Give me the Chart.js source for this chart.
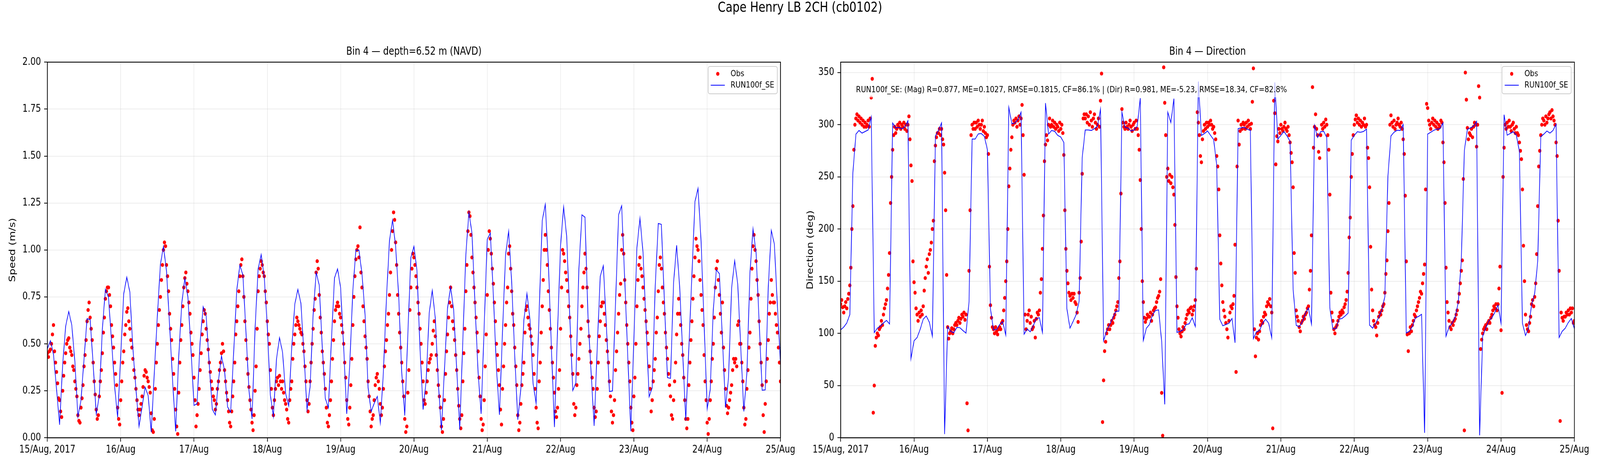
<!DOCTYPE html>
<html>
<head>
<meta charset="utf-8">
<title>Cape Henry LB 2CH (cb0102)</title>
<script src="https://cdn.jsdelivr.net/npm/chart.js@4.4.1/dist/chart.umd.min.js"></script>
<style>
  html, body { margin:0; padding:0; background:#ffffff; overflow:hidden; }
  #stage { position:absolute; left:0; top:0; width:5000px; height:1200px; transform-origin:0 0; font-family:"DejaVu Sans", sans-serif; color:#000; background:#fff; }
  #suptitle { position:absolute; left:0; top:-3px; width:5000px; text-align:center; font-size:35px; line-height:42px; }
  #wrapSpeed { position:absolute; left:0; top:0; width:2495px; height:1200px; }
  #wrapDir { position:absolute; left:2495px; top:0; width:2505px; height:1200px; }
  #stats { position:absolute; left:2668px; top:209px; padding:7px; font-size:22px; line-height:26px; white-space:nowrap; background:rgba(255,255,255,0.7); }
</style>
</head>
<body>
<div id="stage">
<div id="suptitle"></div>
<div id="wrapSpeed"><canvas id="cSpeed" width="2495" height="1200"></canvas></div>
<div id="wrapDir"><canvas id="cDir" width="2505" height="1200"></canvas></div>
<div id="stats"></div>
</div>
<script>
// ---------------- data ----------------
const figTitle = 'Cape Henry LB 2CH (cb0102)';
const speedTitle = 'Bin 4 \u2014 depth=6.52 m (NAVD)';
const dirTitle = 'Bin 4 \u2014 Direction';
const statsText = 'RUN100f_SE: (Mag) R=0.877, ME=0.1027, RMSE=0.1815, CF=86.1% | (Dir) R=0.981, ME=-5.23, RMSE=18.34, CF=82.8%';
const obsLabel = 'Obs';
const modelLabel = 'RUN100f_SE';

const dayLabels = ['15/Aug, 2017','16/Aug','17/Aug','18/Aug','19/Aug','20/Aug','21/Aug','22/Aug','23/Aug','24/Aug','25/Aug'];
const dayTickHours = [0,24,48,72,96,120,144,168,192,216,240];
const speedTicks = [0,0.25,0.5,0.75,1,1.25,1.5,1.75,2];
const dirTicks = [0,50,100,150,200,250,300,350];

const modelStepHours = 1;      // model: hourly
const obsStepHours = 1/3;      // obs: every 20 min

// model speed (m/s), hourly from 15 Aug 00:00
const speedModel = [
0.474,0.517,0.444,0.259,0.069,0.388,0.595,0.672,0.599,0.405,
0.112,0.198,0.42,0.634,0.629,0.388,0.125,0.224,0.578,0.791,
0.748,0.517,0.276,0.108,0.431,0.767,0.855,0.776,0.474,0.259,
0.060,0.164,0.269,0.224,0.030,0.345,0.647,0.922,1.019,0.888,
0.603,0.302,0.034,0.431,0.716,0.849,0.75,0.474,0.172,0.181,
0.509,0.698,0.647,0.388,0.151,0.121,0.302,0.435,0.358,0.164,
0.136,0.46,0.785,0.918,0.868,0.567,0.253,0.10,0.585,0.899,
0.976,0.855,0.593,0.227,0.113,0.419,0.532,0.454,0.236,0.17,
0.48,0.711,0.79,0.716,0.445,0.148,0.27,0.654,0.881,0.812,
0.48,0.209,0.159,0.524,0.851,0.899,0.798,0.48,0.127,0.393,
0.785,0.999,0.999,0.873,0.654,0.266,0.14,0.183,0.22,0.079,
0.349,0.742,1.051,1.159,1.021,0.759,0.349,0.118,0.55,0.96,
1.019,0.89,0.47,0.15,0.305,0.663,0.784,0.637,0.288,0.039,
0.366,0.689,0.803,0.681,0.366,0.044,0.515,0.977,1.2,1.09,
0.707,0.349,0.127,0.593,1.056,1.09,0.759,0.375,0.122,0.567,
0.973,1.1,0.829,0.436,0.096,0.262,0.628,0.768,0.628,0.288,
0.183,0.672,1.156,1.242,0.934,0.48,0.057,0.567,1.021,1.23,
1.073,0.654,0.251,0.292,0.899,1.187,1.174,0.637,0.349,0.063,
0.48,0.86,0.916,0.6,0.246,0.249,0.716,1.187,1.235,0.846,
0.436,0.035,0.524,1.012,1.169,0.986,0.593,0.218,0.266,0.812,
1.141,1.136,0.724,0.32,0.316,0.825,1.025,0.803,0.445,0.092,
0.48,0.864,1.257,1.328,1.047,0.602,0.153,0.257,0.681,0.894,
0.873,0.524,0.161,0.323,0.798,0.942,0.82,0.48,0.14,0.345,
0.877,1.113,0.986,0.62,0.253,0.255,0.803,1.104,1.03,0.698,
0.393];

// observed speed (m/s), every 20 min from 15 Aug 00:00
const speedObs = [
0.45,0.43,0.46, 0.47,0.5,0.55, 0.6,0.46,0.4, 0.35,0.29,0.21, 0.2,0.14,0.11, 0.25,0.33,0.4, 0.45,0.5,0.52, 0.53,0.48,0.46, 0.44,0.38,0.36, 0.3,0.26,0.22,
0.12,0.09,0.08, 0.16,0.21,0.28, 0.38,0.44,0.52, 0.62,0.68,0.72, 0.64,0.58,0.52, 0.4,0.3,0.23, 0.15,0.1,0.12, 0.22,0.3,0.36, 0.45,0.56,0.64, 0.74,0.78,0.8,
0.8,0.76,0.7, 0.6,0.54,0.48, 0.4,0.34,0.28, 0.16,0.1,0.07, 0.2,0.3,0.4, 0.46,0.55,0.6, 0.67,0.69,0.62, 0.58,0.52,0.48, 0.42,0.36,0.32, 0.26,0.2,0.15,
0.12,0.15,0.18, 0.22,0.27,0.33, 0.36,0.35,0.32, 0.3,0.27,0.24, 0.13,0.04,0.03, 0.1,0.26,0.4, 0.5,0.6,0.68, 0.75,0.84,0.92, 1.0,1.04,1.02, 0.92,0.86,0.78,
0.66,0.58,0.52, 0.42,0.34,0.26, 0.15,0.06,0.02, 0.24,0.4,0.52, 0.6,0.7,0.8, 0.85,0.88,0.82, 0.78,0.72,0.66, 0.56,0.5,0.44, 0.32,0.2,0.06, 0.12,0.18,0.26,
0.36,0.45,0.55, 0.62,0.68,0.66, 0.58,0.52,0.47, 0.4,0.35,0.3, 0.26,0.22,0.2, 0.15,0.18,0.26, 0.3,0.36,0.4, 0.45,0.5,0.46, 0.36,0.3,0.24, 0.2,0.14,0.08,
0.06,0.14,0.22, 0.3,0.4,0.55, 0.62,0.7,0.78, 0.86,0.92,0.95, 0.86,0.75,0.62, 0.52,0.42,0.34, 0.27,0.2,0.15, 0.08,0.04,0.12, 0.25,0.38,0.58, 0.78,0.86,0.9,
0.94,0.92,0.88, 0.86,0.78,0.72, 0.62,0.55,0.5, 0.36,0.26,0.16, 0.12,0.2,0.26, 0.3,0.32,0.28, 0.33,0.3,0.26, 0.3,0.24,0.2, 0.18,0.15,0.1, 0.08,0.2,0.26,
0.3,0.42,0.5, 0.55,0.6,0.64, 0.62,0.6,0.58, 0.56,0.55,0.5, 0.46,0.38,0.3, 0.2,0.14,0.18, 0.3,0.4,0.5, 0.58,0.68,0.74, 0.88,0.94,0.9, 0.76,0.64,0.56,
0.46,0.4,0.34, 0.26,0.16,0.08, 0.06,0.12,0.2, 0.3,0.42,0.52, 0.62,0.68,0.7, 0.72,0.7,0.66, 0.64,0.6,0.56, 0.5,0.4,0.32, 0.2,0.1,0.07, 0.16,0.28,0.42,
0.6,0.75,0.86, 0.95,1.0,1.02, 0.96,1.12,0.88, 0.8,0.7,0.62, 0.54,0.48,0.42, 0.3,0.22,0.14, 0.06,0.1,0.12, 0.2,0.28,0.32, 0.34,0.3,0.26, 0.18,0.12,0.16,
0.26,0.38,0.46, 0.52,0.6,0.66, 0.76,0.88,1.0, 1.1,1.2,1.16, 1.04,0.92,0.76, 0.66,0.56,0.48, 0.4,0.3,0.22, 0.1,0.03,0.06, 0.24,0.36,0.68, 0.8,0.9,0.98,
0.96,0.92,0.86, 0.8,0.72,0.66, 0.58,0.5,0.4, 0.3,0.2,0.18, 0.24,0.3,0.36, 0.4,0.42,0.44, 0.5,0.57,0.62, 0.54,0.44,0.36, 0.28,0.22,0.16, 0.06,0.03,0.1,
0.2,0.34,0.46, 0.55,0.64,0.72, 0.8,0.7,0.62, 0.58,0.52,0.44, 0.36,0.26,0.17, 0.1,0.05,0.12, 0.3,0.45,0.58, 0.78,0.92,1.1, 1.2,1.18,1.08, 0.96,0.88,0.8,
0.72,0.64,0.56, 0.46,0.32,0.22, 0.1,0.04,0.07, 0.2,0.38,0.55, 0.76,1.0,1.1, 1.06,0.98,0.9, 0.82,0.72,0.62, 0.5,0.44,0.36, 0.28,0.15,0.07, 0.26,0.38,0.5,
0.6,0.72,0.8, 0.98,1.02,0.9, 0.78,0.66,0.6, 0.48,0.38,0.28, 0.12,0.04,0.08, 0.18,0.28,0.34, 0.4,0.56,0.68, 0.7,0.64,0.6, 0.58,0.54,0.5, 0.44,0.34,0.26,
0.16,0.08,0.05, 0.3,0.4,0.56, 0.7,0.84,1.0, 1.08,1.0,0.92, 0.78,0.68,0.58, 0.48,0.4,0.32, 0.24,0.14,0.11, 0.16,0.26,0.36, 0.58,0.8,1.0, 0.98,0.94,0.88,
0.84,0.78,0.7, 0.64,0.54,0.44, 0.34,0.18,0.12, 0.16,0.28,0.34, 0.42,0.5,0.58, 0.7,0.8,0.88, 0.98,0.9,0.8, 0.62,0.54,0.46, 0.4,0.32,0.26, 0.16,0.11,0.14,
0.26,0.4,0.54, 0.62,0.7,0.72, 0.72,0.66,0.6, 0.52,0.46,0.4, 0.3,0.22,0.14, 0.08,0.12,0.2, 0.36,0.46,0.56, 0.66,0.76,0.82, 1.0,1.08,0.98, 0.84,0.72,0.6,
0.5,0.4,0.3, 0.16,0.08,0.04, 0.22,0.32,0.5, 0.7,0.84,0.92, 0.96,0.9,0.86, 0.8,0.74,0.68, 0.62,0.56,0.5, 0.38,0.26,0.14, 0.2,0.3,0.36, 0.42,0.56,0.64,
0.78,0.92,0.96, 0.9,0.8,0.72, 0.66,0.56,0.48, 0.42,0.34,0.28, 0.22,0.12,0.1, 0.2,0.3,0.4, 0.55,0.66,0.74, 0.66,0.6,0.5, 0.44,0.32,0.2, 0.1,0.05,0.1,
0.28,0.4,0.52, 0.62,0.74,0.86, 0.96,1.06,1.02, 1.0,0.94,0.84, 0.76,0.68,0.6, 0.44,0.3,0.2, 0.08,0.02,0.1, 0.2,0.3,0.42, 0.5,0.64,0.8, 0.9,0.94,0.84,
0.76,0.66,0.56, 0.72,0.48,0.36, 0.26,0.17,0.13, 0.16,0.2,0.24, 0.28,0.36,0.42, 0.4,0.42,0.38, 0.6,0.62,0.5, 0.5,0.4,0.3, 0.16,0.07,0.1, 0.26,0.36,0.48,
0.56,0.74,0.9, 1.02,1.08,1.0, 0.94,0.84,0.76, 0.62,0.5,0.4, 0.28,0.12,0.03, 0.18,0.3,0.42, 0.52,0.66,0.72, 0.84,0.76,0.72, 0.72,0.66,0.6, 0.56,0.48,0.4,
0.3];

// model direction (deg), hourly
const dirModel = [
103.4,106,110,118,254,291,294.5,292,293.5,295,
307.5,100.8,105,107,110,112.5,109,301.7,297,297.5,
296,298,303.8,75.8,92.9,96,103.8,113.6,116.7,110.8,
97.3,289.3,294.7,301.7,3.5,106.6,102,100.6,105.7,105.5,
102.7,100.3,130.7,286.3,286.3,291.2,291.6,288.8,276,123.7,
103.4,103.8,108.5,111.3,98.5,316.6,301,301.7,305,312,
99.2,104.3,101.5,107.3,114.3,115,101,320.8,291,294.5,
293.7,289.8,288.2,283,123.7,105,111.3,117.8,130.7,268.3,
295,295,294.5,296.3,298.6,315,92.9,102.7,108.5,115,
121.3,121.3,312,297.5,296.8,294,295,298.6,325.5,93.3,
105,108.5,117.8,122,122.5,92.2,32,312,302,325,
101,102,103.4,108.5,109.2,115,106.6,341.3,289.8,291.6,
294,289.8,285.8,261.3,113.6,107.3,108.5,109.7,114.3,91,
296.3,297,297.5,295.6,294.7,95,101.5,102.7,109.7,113.6,
109.7,95.7,340.6,286.3,289.8,293.5,289.3,284,142.3,107.8,
106.2,111.3,119,124.4,109,299.3,287.7,293.3,293.7,287.7,
124.4,104.3,104.5,113.6,114.3,116.7,119.5,285.1,289.8,293.3,
292.8,293.5,295.8,108,105,109.7,115.5,122.5,135.3,250.8,
289.3,292.8,294.7,294.5,300.3,100.3,102,106.6,115,116.2,
118.3,4.7,291,292.8,294.7,295.8,296,301.7,97.3,106.2,
109.7,116,129.5,169.2,275.3,295.6,297,298.6,303.3,2.3,
97.3,105,112,115,120.2,127.2,109.7,309.6,290,291.6,
293.3,290,274.6,109.7,98,105,127.6,138.4,169.2,288.6,
291,294,292,294.5,300.5,96.1,102,105,110.4,114.3,
104.3];

// observed direction (deg), every 20 min
const dirObs = [
128,132,125, 120,126,130, 124,133,138, 146,163,200, 222,276,300, 306,310,304, 308,302,306, 300,304,298, 302,298,300, 304,298,306,
326,344,24, 50,88,96, 100,98,104, 106,112,108, 118,124,128, 132,143,156, 177,225,250, 276,290,298, 292,296,300, 298,302,296,
300,298,302, 296,300,294, 300,308,286, 261,246,169, 149,139,124, 118,112,120, 116,122,118, 126,141,153, 164,171,158, 176,180,187,
200,208,265, 280,288,292, 292,296,290, 296,286,281, 254,218,156, 106,95,100, 102,105,100, 104,108,110, 108,112,115, 110,114,118,
116,120,113, 118,33,7, 160,218,290, 300,296,302, 296,302,298, 304,300,296, 300,304,294, 298,292,288, 290,272,164, 127,115,106,
104,100,106, 102,99,104, 106,104,110, 112,122,134, 150,169,200, 241,258,276, 288,300,304, 302,306,298, 304,308,300, 306,319,290,
252,118,104, 112,118,122, 110,116,104, 106,112,96, 114,120,118, 122,139,152, 181,213,265, 281,290,285, 300,306,298, 300,304,298,
302,296,300, 298,294,302, 296,300,292, 271,218,181, 160,148,139, 136,132,138, 134,138,130, 128,120,111, 139,153,188, 253,306,310,
306,310,302, 308,300,312, 304,298,306, 310,302,296, 300,306,298, 323,349,15, 55,83,92, 100,104,108, 104,108,112, 110,115,118,
122,126,130, 153,169,234, 315,302,298, 296,302,298, 296,300,304, 298,294,300, 302,296,304, 296,290,276, 247,200,150, 130,115,111,
114,118,116, 116,120,112, 118,122,124, 125,130,134, 136,140,152, 43,2,355, 321,290,250, 258,246,252, 244,250,240, 233,204,154,
126,115,104, 100,97,102, 106,104,110, 114,118,122, 120,124,125, 118,122,126, 132,162,312, 302,290,270, 264,286,294, 300,296,302,
298,302,300, 304,300,296, 298,292,286, 270,260,238, 194,167,146, 130,122,116, 110,104,96, 112,120,126, 124,128,136, 185,63,260,
304,281,294, 300,296,302, 300,296,302, 298,304,300, 296,301,322, 354,104,78, 96,100,94, 102,108,112, 110,116,120, 118,126,130,
128,133,126, 120,9,323, 311,262,289, 284,296,292, 300,296,294, 298,302,296, 294,298,290, 283,273,264, 240,177,158, 122,116,112,
106,102,110, 112,116,114, 118,120,124, 126,142,160, 194,336,278, 298,310,296, 290,274,268, 290,300,296, 302,298,305, 300,290,276,
233,139,120, 112,104,100, 106,108,112, 116,120,118, 122,120,125, 128,132,140, 158,192,211, 250,272,290, 300,305,309, 302,306,300,
304,298,302, 300,306,298, 300,278,268, 240,183,142, 122,112,108, 106,98,110, 116,120,118, 122,126,128, 139,157,170, 198,225,300,
309,302,298, 304,296,300, 302,306,300, 298,302,296, 286,272,232, 169,99,83, 100,106,102, 108,112,118, 116,122,126, 130,134,140,
138,148,157, 166,238,320, 316,304,300, 296,302,306, 300,304,298, 302,296,300, 298,304,302, 283,264,225, 163,130,120, 112,106,104,
110,108,112, 114,118,122, 130,138,148, 160,170,248, 7,350,324, 297,286,292, 290,296,288, 298,302,300, 279,300,337, 326,85,94,
100,104,106, 108,104,110, 112,110,115, 118,122,126, 124,128,122, 128,143,164, 103,43,250, 278,300,296, 302,298,304, 298,294,300,
302,296,292, 298,292,290, 283,275,267, 238,184,150, 118,108,104, 102,110,116, 128,132,126, 135,148,176, 222,260,275, 290,300,306,
304,300,308, 302,306,310, 312,306,314, 308,304,300, 283,270,208, 160,16,120, 115,112,116, 116,120,118, 122,118,124, 120,124,110,
112];

// ---------------- rendering ----------------
// the figure is laid out on a 5000x1200 stage; if the window is smaller it is scaled to fit
(function fitStage() {
  const sx = Math.min(1, window.innerWidth / 5000);
  const sy = Math.min(1, window.innerHeight / 1200);
  document.getElementById('stage').style.transform = 'scale(' + sx + ',' + sy + ')';
})();

document.getElementById('suptitle').textContent = figTitle;
document.getElementById('stats').textContent = statsText;

Chart.defaults.font.family = 'DejaVu Sans';
Chart.defaults.color = '#000';

const gridColor = 'rgba(176,176,176,0.3)';

const frameLegendPlugin = {
  id: 'frameLegend',
  afterDatasetsDraw(chart) {
    const ctx = chart.ctx, a = chart.chartArea;
    ctx.save();
    ctx.strokeStyle = '#000';
    ctx.lineWidth = 2.2;
    ctx.strokeRect(a.left, a.top, a.right - a.left, a.bottom - a.top);
    const w = 216, h = 70, r = 6;
    const x0 = a.right - 10 - w, y0 = a.top + 11;
    ctx.beginPath();
    ctx.moveTo(x0 + r, y0);
    ctx.lineTo(x0 + w - r, y0); ctx.quadraticCurveTo(x0 + w, y0, x0 + w, y0 + r);
    ctx.lineTo(x0 + w, y0 + h - r); ctx.quadraticCurveTo(x0 + w, y0 + h, x0 + w - r, y0 + h);
    ctx.lineTo(x0 + r, y0 + h); ctx.quadraticCurveTo(x0, y0 + h, x0, y0 + h - r);
    ctx.lineTo(x0, y0 + r); ctx.quadraticCurveTo(x0, y0, x0 + r, y0);
    ctx.closePath();
    ctx.fillStyle = 'rgba(255,255,255,0.8)';
    ctx.fill();
    ctx.strokeStyle = '#cccccc';
    ctx.lineWidth = 2;
    ctx.stroke();
    const ds = chart.data.datasets;
    ctx.fillStyle = ds[0].pointBackgroundColor;
    ctx.beginPath(); ctx.arc(x0 + 30, y0 + 19, 5, 0, Math.PI * 2); ctx.fill();
    ctx.strokeStyle = ds[1].borderColor; ctx.lineWidth = 2;
    ctx.beginPath(); ctx.moveTo(x0 + 8, y0 + 48); ctx.lineTo(x0 + 52, y0 + 48); ctx.stroke();
    ctx.fillStyle = '#000';
    ctx.font = '22px "DejaVu Sans"';
    ctx.textBaseline = 'middle'; ctx.textAlign = 'left';
    ctx.fillText(ds[0].label, x0 + 70, y0 + 19);
    ctx.fillText(ds[1].label, x0 + 70, y0 + 48);
    ctx.restore();
  }
};

function makeChart(id, o) {
  const axisGrid = { color: gridColor, lineWidth: 1.5, drawTicks: true, tickLength: 10, tickColor: '#000', tickWidth: 2 };
  const axisBorder = { display: true, color: '#000', width: 2.2 };
  return new Chart(document.getElementById(id), {
    type: 'scatter',
    data: {
      datasets: [
        { label: obsLabel,
          data: o.obs.map((v, i) => ({ x: i * obsStepHours, y: v })),
          pointBackgroundColor: '#ff0000', pointBorderColor: '#ff0000', pointBorderWidth: 0,
          backgroundColor: '#ff0000', borderColor: '#ff0000',
          pointRadius: 5, pointHoverRadius: 5, showLine: false, order: 2, clip: 0 },
        { label: modelLabel,
          data: o.model.map((v, i) => ({ x: i * modelStepHours, y: v })),
          borderColor: '#0000ff', backgroundColor: '#0000ff', borderWidth: 2,
          pointRadius: 0, pointHoverRadius: 0, showLine: true, fill: false, tension: 0, order: 1, clip: 0 }
      ]
    },
    options: {
      responsive: false, animation: false, devicePixelRatio: 1, events: [],
      layout: { padding: { left: 0, right: o.padRight, top: 0, bottom: 0 } },
      plugins: {
        legend: { display: false }, tooltip: { enabled: false },
        title: { display: true, text: o.title, color: '#000', fullSize: false,
                 font: { family: 'DejaVu Sans', size: 27.5, weight: 'normal', lineHeight: 1.2 },
                 padding: { top: 116, bottom: 10 } }
      },
      scales: {
        x: { type: 'linear', min: 0, max: 240, offset: false,
             afterBuildTicks: s => { s.ticks = dayTickHours.map(v => ({ value: v })); },
             afterFit: s => { s.height = 80; },
             ticks: { autoSkip: false, maxRotation: 0, minRotation: 0, padding: 6, color: '#000',
                      font: { family: 'DejaVu Sans', size: 26 },
                      callback: (v, i) => dayLabels[i] },
             grid: axisGrid, border: axisBorder },
        y: { type: 'linear', min: 0, max: o.yMax,
             afterBuildTicks: s => { s.ticks = o.yTicks.map(v => ({ value: v })); },
             afterFit: s => { s.width = o.yWidth; },
             ticks: { padding: 10, color: '#000', font: { family: 'DejaVu Sans', size: 26 }, callback: o.yFmt },
             grid: axisGrid, border: axisBorder,
             title: { display: true, text: o.yTitle, color: '#000',
                      font: { family: 'DejaVu Sans', size: 27 },
                      padding: { top: o.yTitlePad, bottom: 4 } } }
      }
    },
    plugins: [frameLegendPlugin]
  });
}

makeChart('cSpeed', {
  obs: speedObs, model: speedModel, title: speedTitle,
  yMax: 2, yTicks: speedTicks, yFmt: v => Number(v).toFixed(2), yTitle: 'Speed (m/s)',
  yWidth: 148, yTitlePad: 24, padRight: 56
});
makeChart('cDir', {
  obs: dirObs, model: dirModel, title: dirTitle,
  yMax: 360, yTicks: dirTicks, yFmt: v => String(v), yTitle: 'Direction (deg)',
  yWidth: 132, yTitlePad: 22, padRight: 80
});
</script>
</body>
</html>
